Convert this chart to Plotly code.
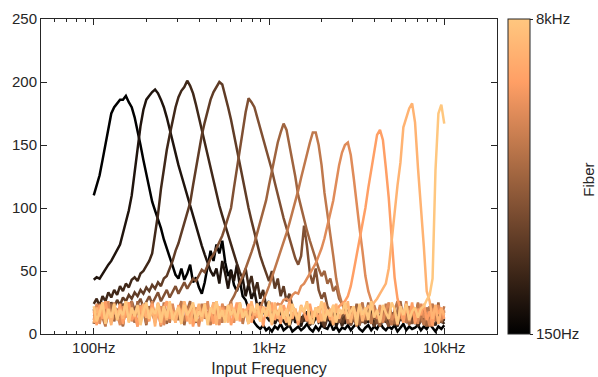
import numpy as np
import plotly.graph_objects as go

# Input frequencies of the sweep (Hz), 100 Hz .. 10 kHz
freqs = np.logspace(2, 4, 121)

# Fiber labels (colour bar ends) and line colours (copper map, low CF -> high CF)
cbar_labels = ["150Hz", "8kHz"]
colors = ["#000000", "#20140d", "#402819", "#603c26", "#805033", "#9f643f",
          "#bf784c", "#df8b59", "#ff9f65", "#ffb372", "#ffc77f"]

fiber1 = [110,118,126,138,150,162,175,180,183,186,
          186,189,184,180,172,162,150,138,126,115,
          105,98,91,84,75,67,61,54,47,44,
          52,43,48,55,41,45,37,32,41,54,
          66,58,71,64,74,57,46,51,39,34,
          42,30,27,20,14,9,6,4,7,3,
          5,2,6,4,8,3,5,7,2,4,
          6,3,5,8,4,2,6,3,7,5,
          4,9,3,6,2,5,4,7,3,6,
          8,4,2,5,7,3,6,4,9,5,
          3,6,4,7,2,5,8,3,6,4,
          5,7,3,6,4,8,5,2,6,4,
          7]
fiber2 = [43,45,44,48,51,55,58,62,66,71,
          80,88,98,110,128,148,165,178,186,189,
          192,194,191,186,180,172,162,152,142,134,
          126,118,108,100,92,85,78,70,63,56,
          50,46,52,40,58,48,36,50,42,55,
          38,44,30,40,28,34,22,25,18,14,
          11,16,8,13,18,10,7,14,17,9,
          12,6,15,10,19,8,13,16,7,11,
          14,9,17,6,12,15,8,18,10,13,
          7,16,11,14,9,19,6,12,15,10,
          13,8,17,11,6,14,10,16,9,12,
          15,7,13,18,10,8,14,11,16,9,
          12]
fiber3 = [24,28,22,30,26,33,29,35,31,38,
          34,40,37,43,45,42,48,50,54,58,
          64,78,95,115,132,146,158,170,180,188,
          193,196,201,197,191,182,172,162,151,141,
          131,122,111,102,94,86,78,70,62,56,
          49,44,52,38,46,33,41,28,35,22,
          26,17,20,12,9,15,11,6,13,17,
          8,14,10,18,7,12,16,9,11,5,
          13,17,8,10,15,6,12,19,9,14,
          11,7,16,10,13,18,8,12,6,15,
          9,14,11,17,7,13,10,16,8,12,
          14,6,11,15,9,17,10,7,13,11,
          8]
fiber4 = [18,22,15,20,24,19,25,21,27,23,
          29,26,31,28,33,30,35,32,37,34,
          39,36,41,38,44,46,52,58,66,72,
          80,88,95,104,118,132,145,158,168,178,
          186,192,196,200,198,190,180,170,158,148,
          136,124,110,100,90,80,70,62,55,48,
          42,50,36,44,30,38,26,32,22,18,
          13,9,16,11,7,14,18,10,12,6,
          15,11,8,17,13,9,14,19,7,12,
          10,16,13,8,18,11,6,14,12,9,
          17,10,13,7,15,11,18,9,12,14,
          8,13,16,10,6,14,11,17,9,12,
          10]
fiber5 = [14,18,11,16,20,13,17,22,15,19,
          24,17,21,26,19,23,28,21,25,30,
          24,28,33,26,31,35,29,34,38,32,
          37,41,36,40,44,42,47,51,49,55,
          60,63,68,72,78,85,92,100,116,132,
          146,160,176,187,184,180,172,164,155,146,
          138,130,120,110,101,92,84,76,68,60,
          55,62,86,70,48,40,52,35,28,33,
          22,18,12,16,9,14,19,11,7,15,
          12,17,9,13,20,10,15,8,14,18,
          11,6,16,12,9,19,13,10,15,8,
          14,18,10,12,7,16,11,13,9,15,
          12]
fiber6 = [8,22,12,25,7,18,24,10,20,14,
          6,23,15,21,9,26,13,19,7,22,
          16,10,24,12,20,8,25,14,18,11,
          23,7,19,26,13,9,21,16,24,10,
          18,12,22,15,20,18,20,26,30,35,
          40,46,52,58,65,72,80,88,96,106,
          118,130,142,152,160,167,162,150,140,125,
          110,100,90,82,74,66,58,52,46,50,
          40,44,34,38,28,24,20,8,21,12,
          24,7,18,13,25,9,20,15,6,22,
          11,23,16,8,19,26,12,17,7,21,
          14,24,10,19,6,22,15,11,25,9,
          18]
fiber7 = [20,9,24,13,6,21,16,25,11,18,
          7,22,14,26,10,19,12,23,8,17,
          24,11,20,6,25,15,9,22,13,19,
          26,10,17,23,8,21,14,24,12,18,
          7,25,16,20,9,22,13,26,11,17,
          23,8,19,14,24,12,20,21,26,32,
          38,45,52,58,65,72,80,88,96,104,
          114,124,134,144,152,160,160,150,134,112,
          96,80,62,44,32,24,18,9,22,14,
          6,20,25,11,17,8,23,15,21,10,
          24,13,7,19,26,12,16,9,22,18,
          11,25,14,7,21,17,24,10,19,13,
          22]
fiber8 = [11,24,8,19,14,26,9,21,16,7,
          22,13,25,10,18,6,23,15,20,12,
          26,9,17,22,7,19,14,24,11,21,
          8,25,16,12,23,18,6,20,13,26,
          10,22,15,7,24,17,11,21,9,19,
          25,13,18,8,22,15,24,11,20,17,
          16,20,22,24,23,27,28,26,31,33,
          32,38,40,44,47,52,56,62,68,76,
          86,96,106,120,134,144,150,152,142,124,
          102,84,66,46,34,26,20,12,23,9,
          19,25,11,16,7,22,14,26,10,18,
          21,8,24,13,17,6,20,15,23,11,
          19]
fiber9 = [18,7,23,12,26,15,9,21,13,24,
          8,19,25,11,16,6,22,14,20,10,
          24,13,17,7,21,26,12,18,9,23,
          15,25,10,20,6,17,22,13,24,11,
          19,8,26,14,21,12,23,7,16,25,
          10,20,15,24,9,18,13,22,6,21,
          14,25,11,19,8,23,16,26,12,20,
          7,22,17,10,24,13,21,9,25,15,
          19,11,23,17,22,24,26,30,38,50,
          62,74,86,100,116,130,146,158,162,154,
          132,108,76,45,28,20,9,22,13,25,
          8,20,15,24,11,18,6,23,16,21,
          12]
fiber10 = [9,21,14,25,11,18,7,23,16,20,
           12,26,10,19,15,22,8,24,13,17,
           21,6,25,14,19,11,23,16,9,22,
           13,26,18,8,20,15,24,10,21,12,
           17,25,7,22,14,19,9,24,16,11,
           23,13,20,8,26,15,18,10,22,14,
           19,7,25,12,21,16,9,24,13,20,
           11,23,17,26,8,18,14,22,10,25,
           15,20,7,24,12,19,16,26,9,21,
           13,23,10,18,22,20,25,28,32,36,
           40,52,72,96,118,136,164,172,179,183,
           168,132,104,70,34,26,12,23,8,20,
           15]
fiber11 = [22,10,17,25,8,20,13,24,11,19,
           15,26,9,21,14,23,7,18,25,12,
           20,16,24,9,22,13,26,11,17,21,
           8,23,15,19,25,10,18,14,24,7,
           21,16,26,12,19,9,23,15,20,11,
           25,13,18,8,22,17,24,10,21,14,
           26,9,19,15,23,12,20,7,24,16,
           11,22,18,25,13,8,21,17,26,10,
           19,14,23,9,20,16,25,12,18,22,
           7,24,15,21,11,26,13,19,9,23,
           17,12,25,20,8,22,15,24,11,18,
           21,13,20,22,27,31,44,130,175,182,
           167]

fibers = [fiber1, fiber2, fiber3, fiber4, fiber5, fiber6,
          fiber7, fiber8, fiber9, fiber10, fiber11]

FONT = "Liberation Sans, Arial, Helvetica, sans-serif"
INK = "#262626"

fig = go.Figure()
for vals, col in zip(fibers, colors):
    fig.add_trace(go.Scatter(x=freqs, y=vals, mode="lines",
                             line=dict(color=col, width=2.5),
                             showlegend=False, hoverinfo="skip"))

n = len(colors)
cscale = [[i / (n - 1), c] for i, c in enumerate(colors)]
fig.add_trace(go.Scatter(
    x=[1000], y=[-100], mode="markers", showlegend=False, hoverinfo="skip",
    marker=dict(color=[0], colorscale=cscale, cmin=0, cmax=1, showscale=True,
                colorbar=dict(x=(508 - 41) / 456, xanchor="left", xpad=0, ypad=0,
                              y=0.5, yanchor="middle", len=1, lenmode="fraction",
                              thickness=22, thicknessmode="pixels",
                              outlinewidth=1, outlinecolor=INK,
                              tickvals=[0, 1], ticktext=cbar_labels,
                              ticks="outside", ticklen=3, tickcolor=INK,
                              tickfont=dict(size=15, color=INK, family=FONT)))))

minor_x = [50, 60, 70, 80, 90, 200, 300, 400, 500, 600, 700, 800, 900,
           2000, 3000, 4000, 5000, 6000, 7000, 8000, 9000, 20000]

fig.update_layout(
    width=598, height=377,
    margin=dict(l=41, r=101, t=19, b=43, autoexpand=False),
    paper_bgcolor="white", plot_bgcolor="white",
    font=dict(family=FONT, size=15, color=INK),
    xaxis=dict(type="log", range=[np.log10(50), np.log10(20000)],
               tickvals=[100, 1000, 10000], ticktext=["100Hz", "1kHz", "10kHz"],
               ticks="inside", ticklen=6, tickcolor=INK, showline=True,
               linecolor=INK, linewidth=1, mirror="ticks", showgrid=False,
               zeroline=False, automargin=False,
               minor=dict(tickvals=minor_x, ticks="inside", ticklen=3,
                          tickcolor=INK, showgrid=False),
               title=dict(text="Input Frequency", font=dict(size=16, color=INK),
                          standoff=7)),
    yaxis=dict(range=[0, 250], tickvals=[0, 50, 100, 150, 200, 250],
               ticks="inside", ticklen=6, tickcolor=INK, showline=True,
               linecolor=INK, linewidth=1, mirror="ticks", showgrid=False,
               zeroline=False, automargin=False),
    annotations=[dict(text="Fiber", x=(589 - 41) / 456, y=0.49,
                      xref="paper", yref="paper", showarrow=False,
                      xanchor="center", yanchor="middle",
                      textangle=-90, font=dict(size=15, color=INK, family=FONT))],
)

fig.write_html("out.html")
